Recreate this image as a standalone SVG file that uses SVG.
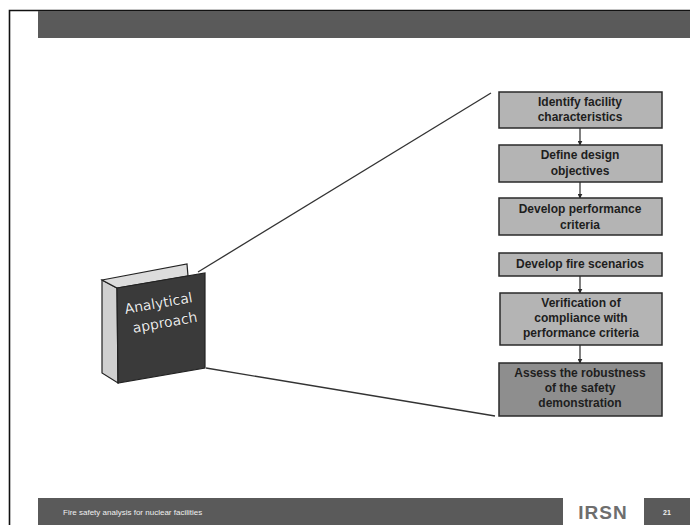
<svg xmlns="http://www.w3.org/2000/svg" width="690" height="525" viewBox="0 0 690 525">
  <defs>
    <style>
      .bar { fill: #5a5a5a; }
      .step { fill: #b4b4b4; stroke: #2a2a2a; stroke-width: 1.5; }
      .step-dark { fill: #8e8e8e; stroke: #2a2a2a; stroke-width: 1.5; }
      .label { font-family: "Liberation Sans", Arial, sans-serif; font-weight: bold; font-size: 12px; fill: #1e1e1e; text-anchor: middle; }
      .flow { stroke: #2a2a2a; stroke-width: 1.2; fill: none; marker-end: url(#head); }
      .ray { stroke: #333; stroke-width: 1.3; fill: none; }
      .cover-text { font-family: "DejaVu Sans", "Liberation Sans", sans-serif; font-size: 14px; fill: #e8e8e8; stroke: #111; stroke-width: 0.6; paint-order: stroke; text-anchor: middle; }
    </style>
    <marker id="head" viewBox="0 0 8 8" refX="7" refY="4" markerWidth="5" markerHeight="5" orient="auto" markerUnits="userSpaceOnUse">
      <path d="M0,0 L8,4 L0,8 z" fill="#2a2a2a"/>
    </marker>
  </defs>

  <!-- page background and frame -->
  <rect x="0" y="0" width="690" height="525" fill="#ffffff"/>
  <path d="M9.5,525 L9.5,10.5 L690,10.5" fill="none" stroke="#111" stroke-width="1.6"/>
  <rect class="bar" x="38" y="11" width="652" height="27"/>

  <!-- footer -->
  <g id="footer">
    <rect class="bar" x="38" y="498" width="525" height="27"/>
    <text x="63" y="515" font-family="Liberation Sans, Arial, sans-serif" font-size="8" fill="#f0f0f0">Fire safety analysis for nuclear facilities</text>
    <text x="603" y="519" font-family="Liberation Sans, Arial, sans-serif" font-weight="bold" font-size="19" fill="#6e6e6e" text-anchor="middle" letter-spacing="1">IRSN</text>
    <rect class="bar" x="644" y="498" width="46" height="27"/>
    <text x="667" y="515" font-family="Liberation Sans, Arial, sans-serif" font-weight="bold" font-size="7" fill="#f0f0f0" text-anchor="middle">21</text>
  </g>

  <!-- binder -->
  <g id="binder">
    <polygon points="102,280 117,288 118,383 102,373" fill="#d0d0d0" stroke="#222" stroke-width="1.2"/>
    <polygon points="102,280 187,264 188,276 117,288" fill="#dcdcdc" stroke="#222" stroke-width="1.2"/>
    <polygon points="117,288 205,273 205,368 118,383" fill="#3a3a3a" stroke="#222" stroke-width="1.2"/>
    <g transform="rotate(-10 160 312)">
      <text class="cover-text" x="160" y="308">Analytical</text>
      <text class="cover-text" x="163" y="328">approach</text>
    </g>
  </g>

  <!-- connectors -->
  <g id="connectors">
    <line class="ray" x1="198" y1="272" x2="491" y2="93"/>
    <line class="ray" x1="206" y1="368" x2="495" y2="416"/>
    <line class="flow" x1="580" y1="128" x2="580" y2="145"/>
    <line class="flow" x1="580" y1="182" x2="580" y2="198"/>
    <line class="flow" x1="580" y1="276" x2="580" y2="293"/>
    <line class="flow" x1="580" y1="345" x2="580" y2="363"/>
  </g>

  <!-- steps -->
  <g id="step1">
    <rect class="step" x="499" y="92" width="163" height="36"/>
    <text class="label" x="580" y="106">Identify facility</text>
    <text class="label" x="580" y="121">characteristics</text>
  </g>
  <g id="step2">
    <rect class="step" x="499" y="145" width="163" height="37"/>
    <text class="label" x="580" y="159">Define design</text>
    <text class="label" x="580" y="175">objectives</text>
  </g>
  <g id="step3">
    <rect class="step" x="499" y="198" width="163" height="37"/>
    <text class="label" x="580" y="213">Develop performance</text>
    <text class="label" x="580" y="229">criteria</text>
  </g>
  <g id="step4">
    <rect class="step" x="499" y="253" width="163" height="23"/>
    <text class="label" x="580" y="268">Develop fire scenarios</text>
  </g>
  <g id="step5">
    <rect class="step" x="500" y="293" width="162" height="52"/>
    <text class="label" x="581" y="307">Verification of</text>
    <text class="label" x="581" y="322">compliance with</text>
    <text class="label" x="581" y="337">performance criteria</text>
  </g>
  <g id="step6">
    <rect class="step-dark" x="499" y="363" width="163" height="53"/>
    <text class="label" x="580" y="377">Assess the robustness</text>
    <text class="label" x="580" y="392">of the safety</text>
    <text class="label" x="580" y="407">demonstration</text>
  </g>
</svg>
